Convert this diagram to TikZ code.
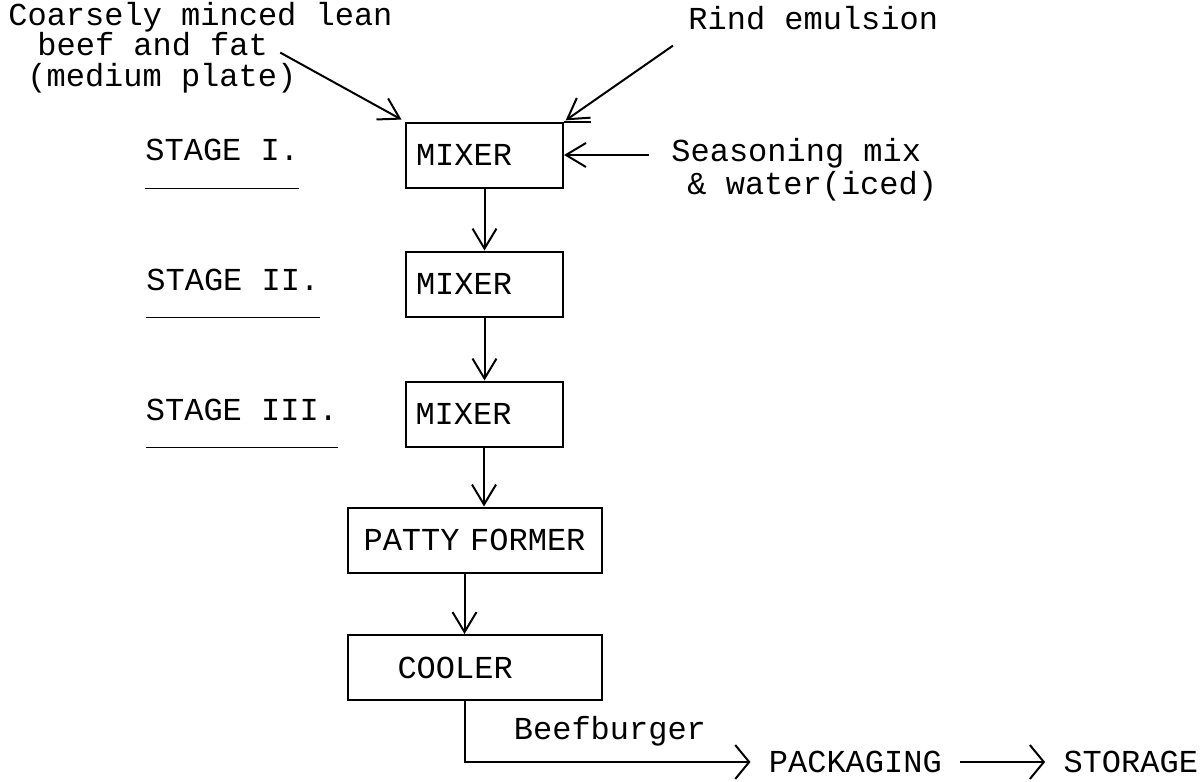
\documentclass[tikz,border=0pt]{standalone}
\usepackage{fontspec}
\setmainfont{Liberation Mono}
\usetikzlibrary{arrows.meta}

\begin{document}
\begin{tikzpicture}[x=0.5pt,y=-0.5pt,font=\fontsize{16}{13}\selectfont]

\tikzstyle{block} = [draw, line width=1pt, minimum height=32.5pt, inner ysep=0pt]
\tikzstyle{mixblock} = [block, align=left, text width=68.5pt, inner xsep=5pt]
\tikzstyle{textblock} = [inner sep=0pt, anchor=base west]
\tikzstyle{flow} = [line width=1pt, -{Straight Barb[length=10pt,width=12pt]}]
\tikzstyle{outflow} = [line width=1pt, -{Straight Barb[length=7pt,width=17pt]}]

\useasboundingbox (0,0) rectangle (1202,781);

\coordinate (origin) at (0,0);

%Mixers: middle column

\path (origin)+(484.5,155) node (mix_a) [mixblock] {MIXER};
\path (mix_a)+(0,129) node (mix_b) [mixblock] {MIXER};
\path (mix_b)+(-0.5,130) node (mix_c) [mixblock] {MIXER};

%Patty former and cooler: bottom middle

\path (mix_c)+(-9.5,126) node (patty) [block, align=center, text width=117pt, inner xsep=5pt] {PATTY FORMER};
\path (patty)+(0,127.5) node (cooler) [block, align=left, text width=77pt, inner xsep=25pt] {COOLER};

%Stage labels: left

\path (mix_a.west)+(-260,5) node (stage_1) [textblock] {STAGE I.};
\path (mix_b.west)+(-259,6) node (stage_2) [textblock] {STAGE II.};
\path (mix_c.west)+(-259,6) node (stage_3) [textblock] {STAGE III.};

\draw [line width=0.7pt] (stage_1.west |- mix_a.south) -- (stage_1.east |- mix_a.south);
\draw [line width=0.7pt] (stage_2.west |- mix_b.south) -- (stage_2.east |- mix_b.south);
\draw [line width=0.7pt] (stage_3.west |- mix_c.south) -- (stage_3.east |- mix_c.south);

%Inputs: top

\path (origin)+(8,26) node (coarse_a) [textblock] {Coarsely minced lean};
\path (coarse_a.base west)+(29,30) node (coarse_b) [textblock] {beef and fat};
\path (coarse_b.base west)+(-10,31) node (coarse_c) [textblock] {(medium plate)};

\path (origin)+(688,30) node (rind) [textblock] {Rind emulsion};

\path (mix_a.east)+(107,6) node (season_a) [textblock] {Seasoning mix};
\path (season_a.base west)+(16,33) node (season_b) [textblock] {\& water(iced)};

%Outputs: bottom

\path (cooler.south)+(39,38) node (burger) [textblock] {Beefburger};
\path (cooler.south)+(276,61) node (pack) [anchor=west, inner xsep=9pt] {PACKAGING};
\path (pack.east)+(85,0) node (store) [anchor=west, inner xsep=9pt] {STORAGE};

%Arrows

\path (coarse_b.east)+(12,8) coordinate (coarse_out);
\path (rind.west)+(-15,27) coordinate (rind_out);

\draw [flow, shorten >=2pt] (coarse_out) -- (mix_a.north west);
\draw [flow, shorten >=1pt] (rind_out) -- (mix_a.north east);
\draw [line width=1pt] (mix_a.north east) -- +(27,0);
\draw [flow] ([xshift=-11pt]season_a.west |- mix_a.east) -- (mix_a.east);

\draw [flow] (mix_a.south) -- (mix_b.north);
\draw [flow] (mix_b.south) -- (mix_b.south |- mix_c.north);
\draw [flow] (mix_c.south) -- (mix_c.south |- patty.north);
\draw [flow] ([xshift=-5pt]patty.south) -- ([xshift=-5pt]cooler.north);

\draw [outflow] ([xshift=-5pt]cooler.south) |- (pack.west);
\draw [outflow] (pack.east) -- (store.west);

\end{tikzpicture}
\end{document}
